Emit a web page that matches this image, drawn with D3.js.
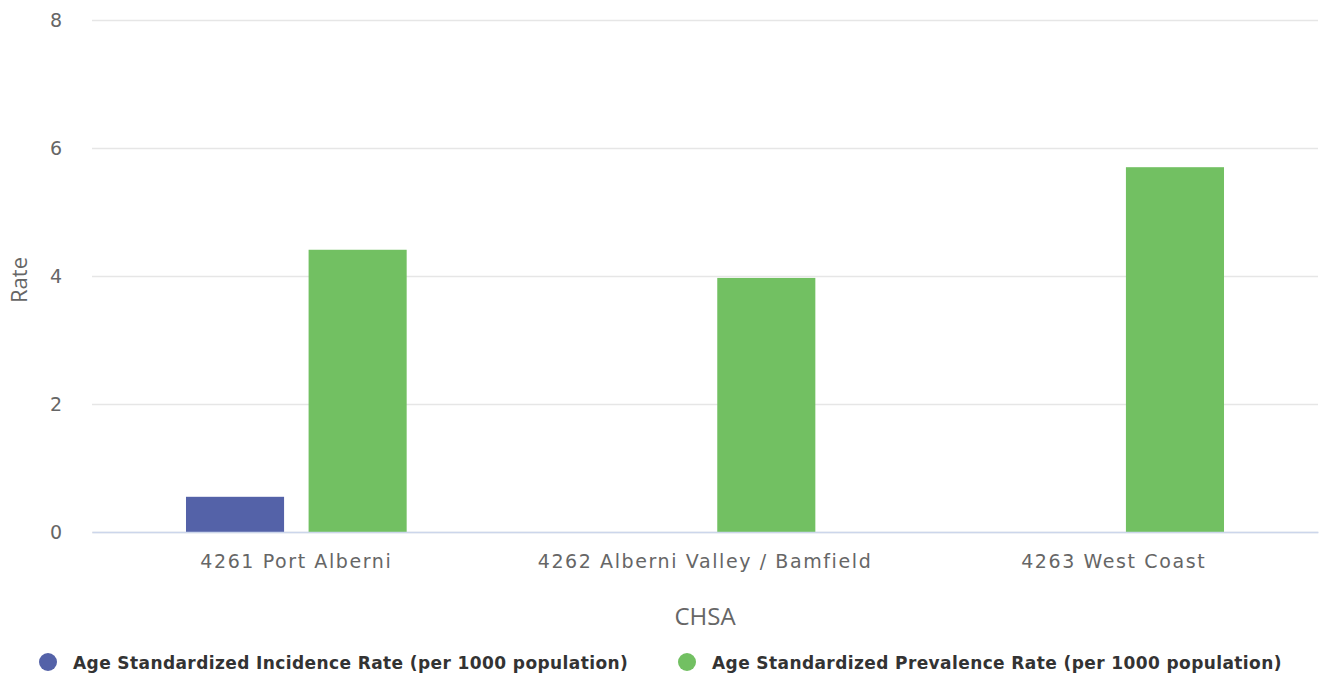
<!DOCTYPE html>
<html>
<head>
<meta charset="utf-8">
<script src="https://cdn.jsdelivr.net/npm/d3@7"></script>
<style>
  body { margin: 0; background: #fff; }
  svg { display: block; }
</style>
</head>
<body>
<svg id="chart" width="1319" height="677"></svg>
<script>
var categories = ["4261 Port Alberni", "4262 Alberni Valley / Bamfield", "4263 West Coast"];
var seriesNames = ["Age Standardized Incidence Rate (per 1000 population)",
                   "Age Standardized Prevalence Rate (per 1000 population)"];
var incidence = [0.55, null, null];
var prevalence = [4.41, 3.97, 5.70];
var yTicks = [0, 2, 4, 6, 8];
var colors = ["#5462a8", "#72c062"];

var svg = d3.select("#chart");
var plotLeft = 92, plotRight = 1318, plotTop = 20, plotBottom = 532;

var x = d3.scaleBand().domain(categories).range([plotLeft, plotRight]);
var y = d3.scaleLinear().domain([0, 8]).range([plotBottom, plotTop]);
// grouping like highcharts: groupPadding .2, pointPadding .1
var inner = d3.scaleBand().domain([0, 1])
    .range([x.bandwidth() * 0.2, x.bandwidth() * 0.8])
    .paddingInner(0.2).paddingOuter(0.1);

// gridlines
svg.append("g")
    .attr("transform", "translate(" + plotLeft + ",0)")
    .call(d3.axisLeft(y).tickValues(yTicks).tickSize(-(plotRight - plotLeft)).tickFormat(""))
    .call(function(g) {
        g.select(".domain").remove();
        g.selectAll("line").attr("stroke", "#e6e6e6").attr("stroke-width", 1.5);
    });

// y labels
svg.append("g")
    .selectAll("text").data(yTicks).enter().append("text")
    .attr("x", 62).attr("y", function(d) { return y(d) + 7; })
    .attr("text-anchor", "end")
    .attr("font-family", "DejaVu Sans, Verdana, sans-serif")
    .attr("font-size", 19).attr("fill", "#666")
    .text(function(d) { return d; });

// bars
var series = [incidence, prevalence];
series.forEach(function(vals, si) {
    svg.append("g").selectAll("rect")
        .data(vals.map(function(v, i) { return { c: categories[i], v: v }; })
                  .filter(function(d) { return d.v != null; }))
        .enter().append("rect")
        .attr("x", function(d) { return x(d.c) + inner(si); })
        .attr("width", inner.bandwidth())
        .attr("y", function(d) { return y(d.v); })
        .attr("height", function(d) { return y(0) - y(d.v); })
        .attr("fill", colors[si]);
});

// x axis
svg.append("g")
    .attr("transform", "translate(0," + plotBottom + ")")
    .call(d3.axisBottom(x).tickSize(0).tickPadding(23))
    .call(function(g) {
        g.select(".domain").attr("stroke", "#ccd6eb").attr("stroke-width", 1.5);
        g.selectAll("text")
            .attr("font-family", "DejaVu Sans, Verdana, sans-serif")
            .attr("font-size", 19).attr("fill", "#666")
            .attr("letter-spacing", 1.6);
    });

// axis titles
svg.append("text")
    .attr("x", (plotLeft + plotRight) / 2).attr("y", 625)
    .attr("text-anchor", "middle")
    .attr("font-family", "Open Sans, sans-serif")
    .attr("font-size", 24).attr("fill", "#666")
    .text("CHSA");
svg.append("text")
    .attr("transform", "translate(27,280) rotate(-90)")
    .attr("text-anchor", "middle")
    .attr("font-family", "Open Sans, sans-serif")
    .attr("font-size", 22).attr("fill", "#666")
    .text("Rate");

// legend
var legendX = [48, 687];
var legend = svg.append("g").selectAll("g").data(seriesNames).enter().append("g")
    .attr("transform", function(d, i) { return "translate(" + legendX[i] + ",662)"; });
legend.append("circle").attr("r", 9)
    .attr("fill", function(d, i) { return colors[i]; });
legend.append("text")
    .attr("x", 25).attr("y", 7)
    .attr("font-family", "DejaVu Sans, Verdana, sans-serif")
    .attr("font-size", 17).attr("font-weight", 600).attr("fill", "#333")
    .attr("letter-spacing", 0.4)
    .text(function(d) { return d; });
</script>
</body>
</html>
